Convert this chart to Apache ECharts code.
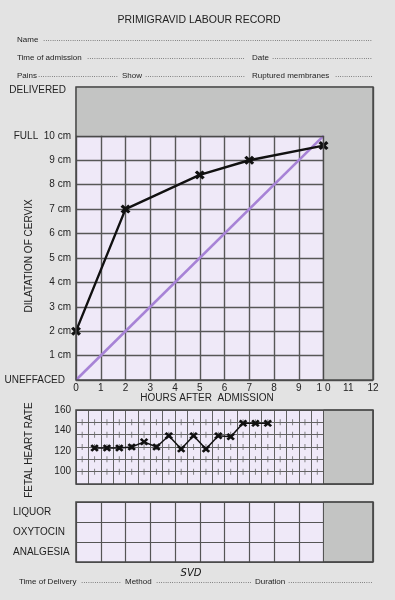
<!DOCTYPE html>
<html><head><meta charset="utf-8">
<script src="https://cdn.jsdelivr.net/npm/echarts@6/dist/echarts.min.js"></script>
<style>html,body{margin:0;padding:0;background:#e3e3e3}#c{width:395px;height:600px}</style>
</head><body><div id="c"></div>
<script>
// ---- data ----
const hourLabels = ['0','1','2','3','4','5','6','7','8','9','1 0','11','12'];
const dilationLabels = ['UNEFFACED','1 cm','2 cm','3 cm','4 cm','5 cm','6 cm','7 cm','8 cm','9 cm','FULL  10 cm','','DELIVERED'];
const cervixHours = [0, 2, 5, 7, 10];
const cervixDilation = [2, 7, 8.4, 9, 9.6];
const alertHours = [0, 10];
const alertDilation = [0, 10];
const fhrHours = [0.75,1.25,1.75,2.25,2.75,3.25,3.75,4.25,4.75,5.25,5.75,6.25,6.75,7.25,7.75];
const fhrRates = [123,123,123,124,129,124,135,122,135,122,135,134,147,147,147];
const fhrTickLabels = [100, 120, 140, 160];
const fhrGridLevels = [100, 112, 124, 136, 148];
const fhrCellCentres = [0.25,0.75,1.25,1.75,2.25,2.75,3.25,3.75,4.25,4.75,5.25,5.75,6.25,6.75,7.25,7.75,8.25,8.75,9.25,9.75];
const tableRows = ['LIQUOR','OXYTOCIN','ANALGESIA'];
const chartedHours = 10;
const fullDilation = 10;
const titleText = 'PRIMIGRAVID LABOUR RECORD';
const xAxisName = 'HOURS AFTER  ADMISSION';
const yAxisName = 'DILATATION OF CERVIX';
const fhrAxisName = 'FETAL HEART RATE';
const deliveryMethod = 'SVD';

// ---- styling ----
const FONT = '"Liberation Sans", Arial, Helvetica, sans-serif';
const GRAY = '#c3c4c3';
const LAV = '#efe9f8';
const LINE = '#575757';
const TXT = '#232323';
const X_PATH = 'path://M0,2.3L2.3,0L5,2.7L7.7,0L10,2.3L7.3,5L10,7.7L7.7,10L5,7.3L2.3,10L0,7.7L2.7,5Z';

function pairs(xs, ys) { return xs.map((x, i) => [x, ys[i]]); }
const fhrTicks = [];
fhrGridLevels.forEach(l => fhrCellCentres.forEach(h => fhrTicks.push([h, l])));

const graphic = [];
function txt(text, x, y, opt) {
  opt = opt || {};
  graphic.push({type:'text', x:x, y:y, rotation: opt.rot || 0, z:100, silent:true,
    style:{text:text, fill: opt.fill || TXT, fontSize: opt.size || 10, fontFamily: opt.family || FONT,
      fontStyle: opt.style || 'normal', fontWeight: opt.weight || 'normal',
      align: opt.align || 'left', verticalAlign:'middle'}});
}
function dots(x1, x2, y) {
  txt('.'.repeat(Math.round((x2 - x1) / 2.224)), x1, y - 1, {size:8, fill:'#444'});
}
function frame(x, y, w, h) {
  graphic.push({type:'rect', z:100, silent:true, shape:{x:x, y:y, width:w, height:h},
    style:{fill:'none', stroke:'#474747', lineWidth:1.5}});
}

txt(titleText, 199, 20, {align:'center', size:10.5});
txt('Name', 17, 40, {size:8}); dots(43, 372, 40);
txt('Time of admission', 17, 57.5, {size:8}); dots(87, 246, 57.5);
txt('Date', 252, 57.5, {size:8}); dots(272, 372, 57.5);
txt('Pains', 17, 75.5, {size:8}); dots(38, 119, 75.5);
txt('Show', 122, 75.5, {size:8}); dots(145, 246, 75.5);
txt('Ruptured membranes', 252, 75.5, {size:8}); dots(335, 372, 75.5);
txt(yAxisName, 29, 256, {align:'center', rot: Math.PI/2});
txt(xAxisName, 207, 398, {align:'center'});
txt(fhrAxisName, 29, 450, {align:'center', rot: Math.PI/2});
txt('Time of Delivery', 19, 582, {size:8}); dots(81, 121, 582);
txt('Method', 125, 582, {size:8}); dots(156, 251, 582);
txt('Duration', 255, 582, {size:8}); dots(288, 372, 582);
txt(deliveryMethod, 191, 573, {align:'center', size:10, style:'italic', family:'"DejaVu Sans", sans-serif', fill:'#111'});
frame(76, 87, 297, 293);
frame(76, 410, 297, 74);
frame(76, 502, 297, 60);

const option = {
  backgroundColor: '#e3e3e3',
  animation: false,
  textStyle: {fontFamily: FONT},
  graphic: graphic,
  grid: [
    {left:76, top:87, width:297, height:293, show:true, backgroundColor:LAV, borderWidth:0},
    {left:76, top:410, width:297, height:74, show:true, backgroundColor:LAV, borderWidth:0},
    {left:76, top:502, width:297, height:60, show:true, backgroundColor:LAV, borderWidth:0}
  ],
  xAxis: [
    {gridIndex:0, type:'value', min:0, max:12, interval:1,
      axisLine:{show:false}, axisTick:{show:false},
      axisLabel:{margin:3, fontSize:10, color:TXT, formatter: v => hourLabels[Math.round(v)]},
      splitLine:{show:true, lineStyle:{color:LINE, width:1.4}}},
    {gridIndex:1, type:'value', min:0, max:12, interval:0.5,
      axisLine:{show:false}, axisTick:{show:false}, axisLabel:{show:false},
      splitLine:{show:true, lineStyle:{color:'#636363', width:1}}},
    {gridIndex:2, type:'value', min:0, max:12, interval:1,
      axisLine:{show:false}, axisTick:{show:false}, axisLabel:{show:false},
      splitLine:{show:true, lineStyle:{color:'#555', width:1.2}}}
  ],
  yAxis: [
    {gridIndex:0, type:'value', min:0, max:12, interval:1,
      axisLine:{show:false}, axisTick:{show:false},
      axisLabel:{margin:5, fontSize:10, color:TXT,
        formatter: v => {
          const s = dilationLabels[Math.round(v)];
          if (Math.round(v) === 12) return '{d|' + s + '}';
          if (Math.round(v) === 0) return '{u|' + s + '}';
          return s;
        },
        rich:{d:{fontSize:10, color:TXT, padding:[6,5,0,0]}, u:{fontSize:10, color:TXT, padding:[0,6,0,0]}}},
      splitLine:{show:true, lineStyle:{color:LINE, width:1.4}}},
    {gridIndex:1, type:'value', min:88, max:160, interval:4,
      axisLine:{show:false}, axisTick:{show:false},
      axisLabel:{margin:5, fontSize:10, color:TXT,
        formatter: v => fhrTickLabels.indexOf(Math.round(v)) >= 0 ? String(Math.round(v)) : ''},
      splitLine:{show:true, lineStyle:{color:['#636363','rgba(0,0,0,0)','rgba(0,0,0,0)'], width:1}}},
    {gridIndex:2, type:'category', data:tableRows, inverse:true,
      axisLine:{show:false}, axisTick:{show:false},
      axisLabel:{align:'left', margin:63, fontSize:10, color:TXT},
      splitLine:{show:true, interval:0, lineStyle:{color:'#555', width:1.2}}}
  ],
  series: [
    {type:'line', xAxisIndex:0, yAxisIndex:0, data:[], z:1, silent:true,
      markArea:{silent:true, itemStyle:{color:GRAY},
        data:[[{coord:[0, fullDilation]}, {coord:[12, 12]}], [{coord:[chartedHours, 0]}, {coord:[12, 12]}]]}},
    {type:'line', xAxisIndex:0, yAxisIndex:0, data:pairs(alertHours, alertDilation), z:3, silent:true,
      showSymbol:false, lineStyle:{color:'#a783d6', width:2.6},
      markLine:{silent:true, symbol:['none','none'], label:{show:false},
        lineStyle:{color:'#4a4a4a', width:1.4, type:'solid'},
        data:[[{coord:[0, fullDilation]}, {coord:[chartedHours, fullDilation]}],
              [{coord:[chartedHours, 0]}, {coord:[chartedHours, fullDilation]}]]}},
    {type:'line', xAxisIndex:0, yAxisIndex:0, data:pairs(cervixHours, cervixDilation), z:4, silent:true,
      symbol:X_PATH, symbolSize:[10,9], showSymbol:true,
      itemStyle:{color:'#111'}, lineStyle:{color:'#111', width:2.4}},
    {type:'line', xAxisIndex:1, yAxisIndex:1, data:[], z:1, silent:true,
      markArea:{silent:true, itemStyle:{color:GRAY, borderColor:'#555', borderWidth:1},
        data:[[{xAxis:chartedHours}, {xAxis:12}]]}},
    {type:'scatter', xAxisIndex:1, yAxisIndex:1, data:fhrTicks, z:2, silent:true,
      symbol:'rect', symbolSize:[1,6], itemStyle:{color:'#666'}},
    {type:'line', xAxisIndex:1, yAxisIndex:1, data:pairs(fhrHours, fhrRates), z:4, silent:true,
      symbol:X_PATH, symbolSize:[8.5,7.5], showSymbol:true,
      itemStyle:{color:'#111'}, lineStyle:{color:'#111', width:1.5}},
    {type:'line', xAxisIndex:2, yAxisIndex:2, data:[], z:1, silent:true,
      markArea:{silent:true, itemStyle:{color:GRAY, borderColor:'#555', borderWidth:1},
        data:[[{xAxis:chartedHours}, {xAxis:12}]]}}
  ]
};
echarts.init(document.getElementById('c'), null, {renderer:'canvas'}).setOption(option);
</script></body></html>
